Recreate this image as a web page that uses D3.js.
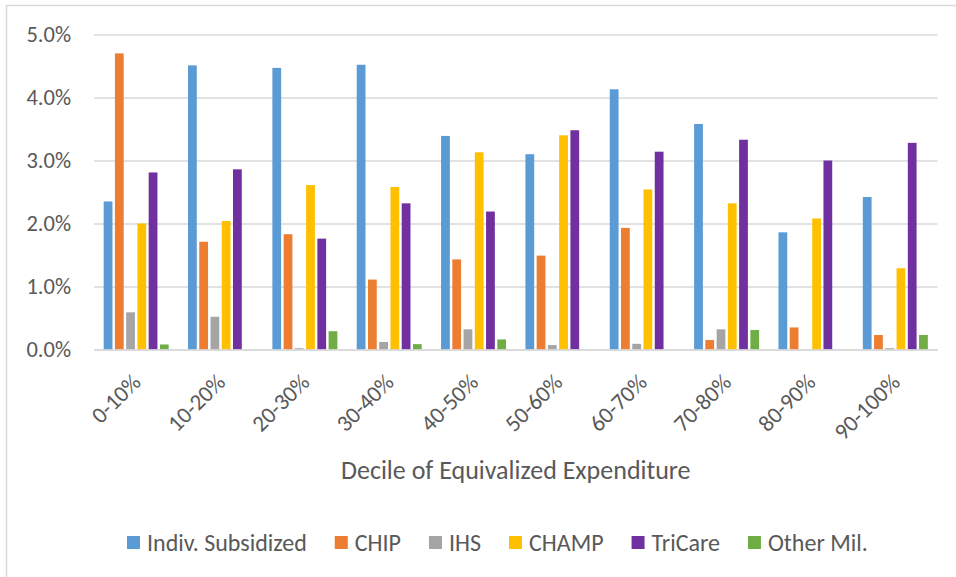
<!DOCTYPE html>
<html>
<head>
<meta charset="utf-8">
<script src="https://cdn.jsdelivr.net/npm/d3@7"></script>
<style>
  html, body { margin: 0; padding: 0; background: #fff; }
  svg { display: block; }
  text { font-family: Carlito, Calibri, Lato, "Open Sans", sans-serif; fill: #595959; }
</style>
</head>
<body>
<svg id="chart" width="956" height="577"></svg>
<script>
const categories = ["0-10%","10-20%","20-30%","30-40%","40-50%","50-60%","60-70%","70-80%","80-90%","90-100%"];
const seriesNames = ["Indiv. Subsidized","CHIP","IHS","CHAMP","TriCare","Other Mil."];
const seriesColors = ["#5b9bd5","#ed7d31","#a5a5a5","#ffc000","#7030a0","#70ad47"];
const indivSubsidized = [2.35, 4.51, 4.47, 4.52, 3.39, 3.10, 4.13, 3.58, 1.86, 2.42];
const chip            = [4.70, 1.71, 1.83, 1.11, 1.43, 1.49, 1.93, 0.15, 0.35, 0.23];
const ihs             = [0.59, 0.52, 0.02, 0.12, 0.32, 0.07, 0.09, 0.32, 0.00, 0.02];
const champ           = [2.00, 2.04, 2.61, 2.58, 3.13, 3.40, 2.54, 2.32, 2.08, 1.29];
const tricare         = [2.81, 2.86, 1.76, 2.32, 2.19, 3.48, 3.14, 3.33, 3.00, 3.28];
const otherMil        = [0.08, 0.00, 0.29, 0.085, 0.16, 0.00, 0.00, 0.31, 0.00, 0.23];
const yTicks = [0, 1, 2, 3, 4, 5];
const xTitle = "Decile of Equivalized Expenditure";

const seriesValues = [indivSubsidized, chip, ihs, champ, tricare, otherMil];

const svg = d3.select("#chart");
const plot = { left: 94, right: 937.5, top: 34.5, bottom: 349.5 };

// chart frame
svg.append("rect").attr("x", 6.5).attr("y", 5.5).attr("width", 1000).attr("height", 1000)
  .attr("fill", "none").attr("stroke", "#d9d9d9").attr("stroke-width", 1.5);

const y = d3.scaleLinear().domain([0, 5]).range([plot.bottom, plot.top]);
const x0 = d3.scaleBand().domain(categories).range([plot.left, plot.right])
  .paddingInner(0.2).paddingOuter(0.1);
const x1 = d3.scaleBand().domain(seriesNames).range([0, x0.bandwidth()])
  .paddingInner(0.22).paddingOuter(0.11);

// gridlines + y labels via axis
const yAxis = d3.axisLeft(y).tickValues(yTicks).tickFormat(d => d3.format(".1f")(d) + "%")
  .tickSize(-(plot.right - plot.left)).tickPadding(23);
const gy = svg.append("g").attr("transform", `translate(${plot.left},0)`).call(yAxis);
gy.select(".domain").remove();
gy.selectAll(".tick line").attr("stroke", "#d9d9d9").attr("stroke-width", 1.4);
gy.selectAll(".tick text").attr("font-size", 22.5).style("fill", "#595959")
  .style("font-family", "Carlito, Calibri, Lato, sans-serif");

// bars
const groups = svg.append("g").selectAll("g").data(categories).join("g")
  .attr("transform", d => `translate(${x0(d)},0)`);
groups.selectAll("rect").data((c, i) => seriesNames.map((s, j) => ({ s, v: seriesValues[j][i], c: seriesColors[j] })))
  .join("rect")
  .filter(d => d.v > 0)
  .attr("x", d => x1(d.s))
  .attr("width", x1.bandwidth())
  .attr("y", d => y(d.v))
  .attr("height", d => y(0) - y(d.v))
  .attr("fill", d => d.c);

// x axis
const xAxis = d3.axisBottom(x0).tickSize(0).tickPadding(0);
const gx = svg.append("g").attr("transform", `translate(0,${plot.bottom})`).call(xAxis);
gx.select(".domain").attr("stroke", "#d9d9d9").attr("stroke-width", 1.4);
gx.selectAll(".tick text")
  .attr("font-size", 23)
  .style("fill", "#595959")
  .style("font-family", "Carlito, Calibri, Lato, sans-serif")
  .attr("text-anchor", "end")
  .attr("transform", "translate(6,34) rotate(-45)")
  .attr("dy", "0")
  .attr("y", 0);

// x title
svg.append("text").attr("x", (plot.left + plot.right) / 2).attr("y", 479)
  .attr("text-anchor", "middle").attr("font-size", 26).text(xTitle);

// legend
const leg = svg.append("g").attr("transform", "translate(127,543)");
let lx = 0;
seriesNames.forEach((name, i) => {
  leg.append("rect").attr("x", lx).attr("y", -7).attr("width", 13).attr("height", 13).attr("fill", seriesColors[i]);
  const t = leg.append("text").attr("x", lx + 20).attr("y", 0).attr("dy", "0.35em")
    .attr("font-size", 24).text(name);
  lx += 20 + t.node().getComputedTextLength() + 28;
});
</script>
</body>
</html>
